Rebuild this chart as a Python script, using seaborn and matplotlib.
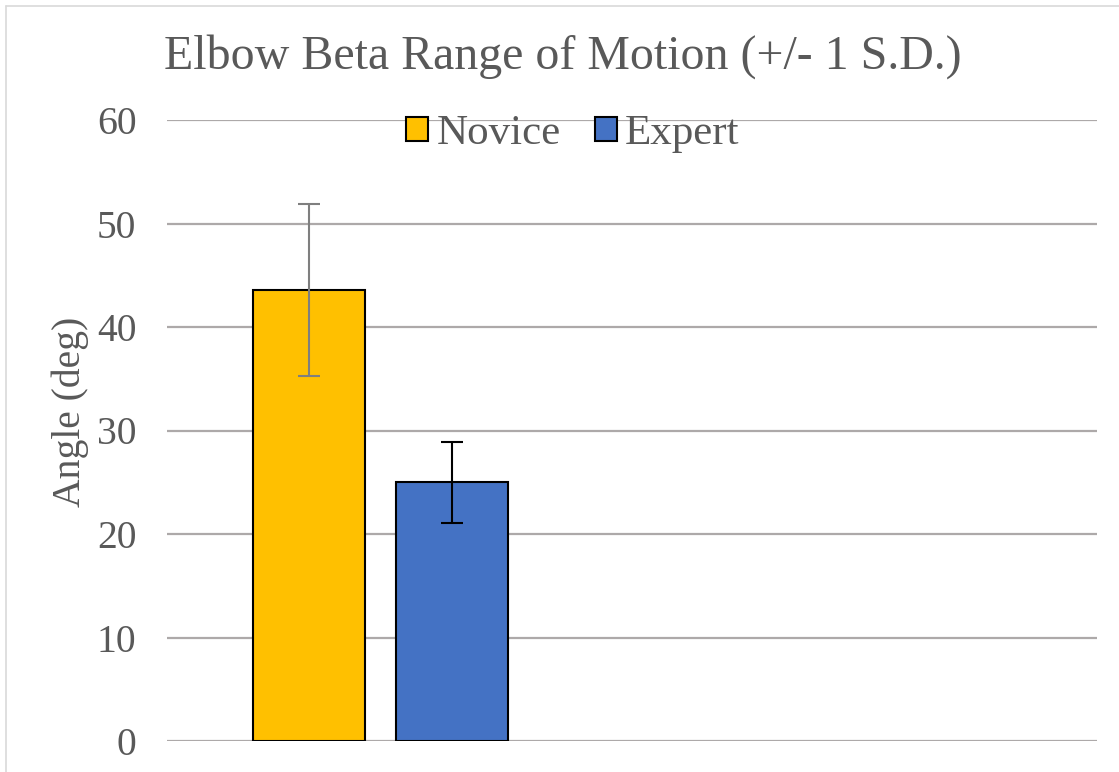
import matplotlib
matplotlib.use("Agg")
import matplotlib.pyplot as plt
import seaborn as sns
import pandas as pd
from matplotlib.lines import Line2D

groups = ["Novice", "Expert"]
means = [43.6, 25.0]
sds = [8.3, 3.9]
bar_colors = ["#FFC000", "#4472C4"]
err_colors = ["#7F7F7F", "#000000"]
yticks = [0, 10, 20, 30, 40, 50, 60]

df = pd.DataFrame({"category": [""] * len(groups), "group": groups, "angle": means})

sns.set_theme(style="white")
plt.rcParams["font.family"] = ["Liberation Serif", "DejaVu Serif"]
text_color = "#595959"

fig = plt.figure(figsize=(11.19, 7.72), dpi=100)
ax = fig.add_axes([167/1119, 1-741/772, (1097-167)/1119, (741-120)/772])

sns.barplot(data=df, x="category", y="angle", hue="group", hue_order=groups,
            palette=bar_colors, gap=0.217, edgecolor="black", linewidth=1.5,
            errorbar=None, ax=ax, saturation=1)

# error bars positioned from bars drawn by seaborn
for cont, m, s, c in zip(ax.containers, means, sds, err_colors):
    for p in cont:
        xc = p.get_x() + p.get_width() / 2
        ax.errorbar([xc], [m], yerr=[s], fmt="none", ecolor=c, elinewidth=1.5,
                    capsize=8, capthick=1.5, zorder=5)

ax.set_xlim(-0.597, 2.004)
ax.set_ylim(0, 60)
ax.set_yticks(yticks)
ax.set_yticklabels([str(t) for t in yticks])
ax.set_xticks([])
ax.set_xlabel("")
ax.yaxis.grid(True, color="#ADA9A9", linewidth=1.6)
ax.set_axisbelow(True)
for sp in ax.spines.values():
    sp.set_visible(False)
ax.tick_params(axis="y", length=0, pad=22, labelsize=28.5, labelcolor=text_color)

ax.set_ylabel("Angle (deg)", fontsize=28.5, color=text_color, va="center")
ax.yaxis.set_label_coords(-0.104, 0.53)

fig.text(563/1119, 1-57/772, "Elbow Beta Range of Motion (+/- 1 S.D.)",
         ha="center", va="center", fontsize=34.5, color=text_color)

handles, labels = ax.get_legend_handles_labels()
ax.legend(handles, labels, loc="center", bbox_to_anchor=(573/1119, 1-134/772),
          bbox_transform=fig.transFigure, ncol=2, frameon=False, fontsize=31,
          labelcolor=text_color, handlelength=0.5, handleheight=0.5,
          handletextpad=0.2, columnspacing=0.8, borderaxespad=0)
for h in ax.get_legend().legend_handles:
    h.set_edgecolor("black")
    h.set_linewidth(1.5)

# chart border (top and left visible)
fig.add_artist(Line2D([6/1119, 6/1119], [0, 1-6/772], transform=fig.transFigure,
                      color="#D9D9D9", linewidth=1.2))
fig.add_artist(Line2D([6/1119, 1], [1-6/772, 1-6/772], transform=fig.transFigure,
                      color="#D9D9D9", linewidth=1.2))

fig.savefig("out.png", dpi=100, facecolor="white")
